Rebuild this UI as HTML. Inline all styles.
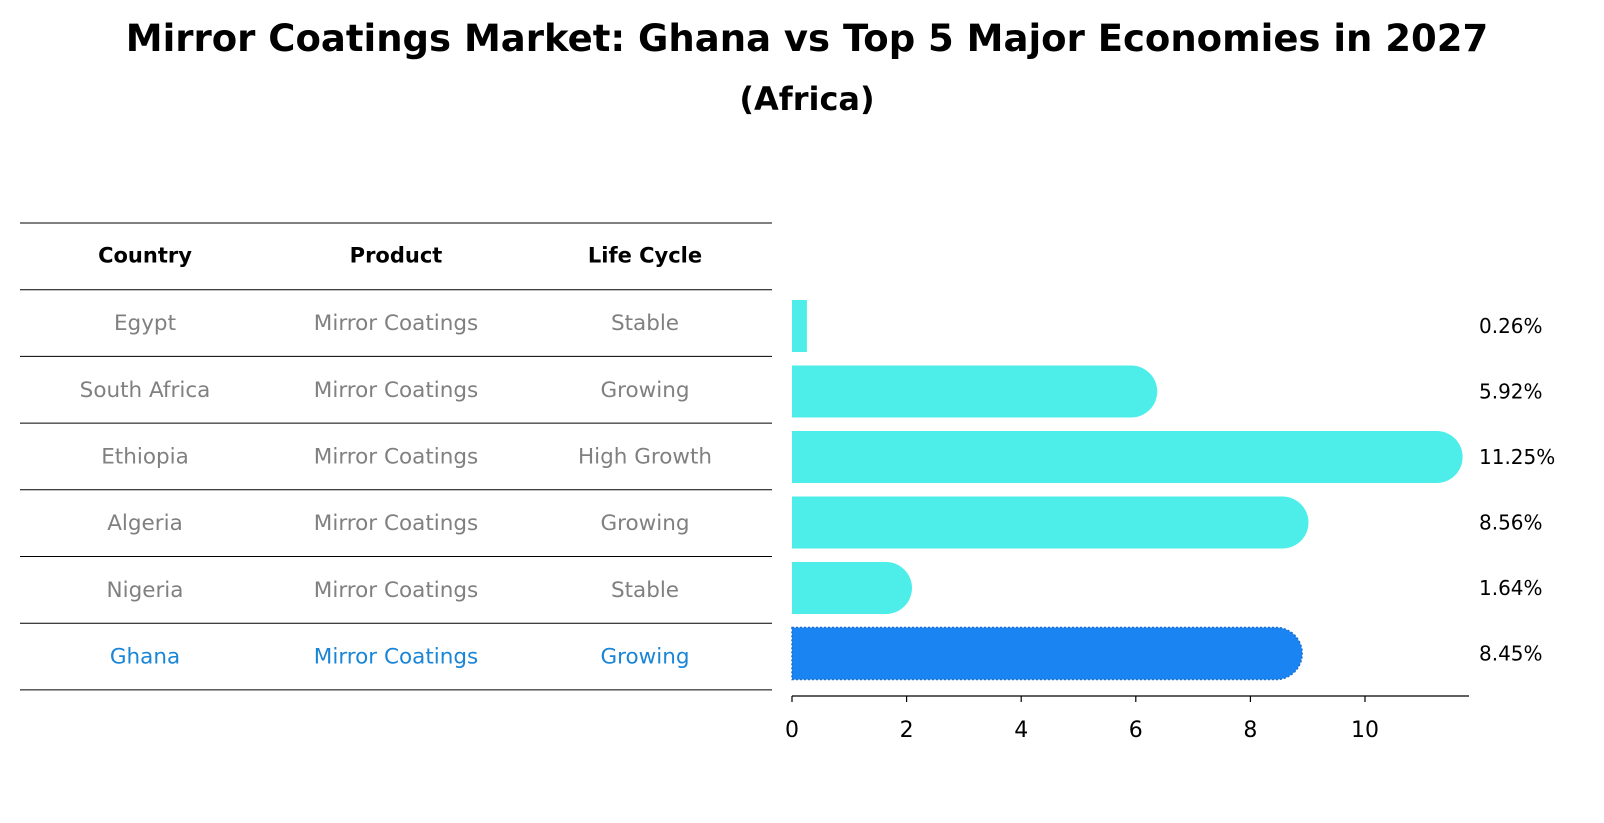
<!DOCTYPE html>
<html><head><meta charset="utf-8"><style>
body{margin:0;background:#fff;}
svg{display:block;font-family:"DejaVu Sans","Liberation Sans",sans-serif;}
</style></head><body>
<svg width="1604" height="823" viewBox="0 0 1604 823" id="chart">
<text x="807" y="51" text-anchor="middle" font-size="37" font-weight="bold">Mirror Coatings Market: Ghana vs Top 5 Major Economies in 2027</text>
<text x="807" y="110" text-anchor="middle" font-size="32" font-weight="bold">(Africa)</text>
<g id="table"></g>
<g id="bars"></g>
</svg>
<script>
const countries=["Egypt","South Africa","Ethiopia","Algeria","Nigeria","Ghana"];
const products=["Mirror Coatings","Mirror Coatings","Mirror Coatings","Mirror Coatings","Mirror Coatings","Mirror Coatings"];
const lifeCycles=["Stable","Growing","High Growth","Growing","Stable","Growing"];
const values=[0.26,5.92,11.25,8.56,1.64,8.45];
const valueLabels=["0.26%","5.92%","11.25%","8.56%","1.64%","8.45%"];
const ticks=[0,2,4,6,8,10];

const NS="http://www.w3.org/2000/svg";
function mk(tag,attrs,parent,text){const e=document.createElementNS(NS,tag);for(const k in attrs)e.setAttribute(k,attrs[k]);if(text!==undefined)e.textContent=text;parent.appendChild(e);return e;}
const tbl=document.getElementById('table');
const bars=document.getElementById('bars');
const rowH=66.7, tableTop=223, colX=[145,396,645];
const hl=countries.length-1;
for(let i=0;i<=countries.length+1;i++){
  const l=mk('line',{x1:20,x2:772,y1:tableTop+i*rowH,y2:tableTop+i*rowH,stroke:'#000','stroke-width':1},tbl);
  
  
}
["Country","Product","Life Cycle"].forEach((h,j)=>{
  const t=mk('text',{x:colX[j],y:tableTop+rowH/2+6,'text-anchor':'middle','font-size':21,'font-weight':'bold'},tbl,h);
  
  
});
countries.forEach((c,i)=>{
  const y=tableTop+(i+1.5)*rowH+7;
  const col=i===hl?'#1a85d6':'#808080';
  [c,products[i],lifeCycles[i]].forEach((v,j)=>{
    const t=mk('text',{x:colX[j],y:y,'text-anchor':'middle','font-size':21.5,fill:col},tbl,v);
    
    
  });
});
const x0=792, pxPerUnit=57.3;
const xs=v=>x0+v*pxPerUnit;
const barTop0=300, step=65.5, bh=52;
const ys=i=>barTop0+i*step;
const ax=mk('line',{x1:x0,x2:1469,y1:696,y2:696,stroke:'#000','stroke-width':1.3},bars);


ticks.forEach(t=>{
  const tl=mk('line',{x1:xs(t),x2:xs(t),y1:696,y2:702,stroke:'#000','stroke-width':1.2},bars);
  
  
  const tx=mk('text',{x:xs(t),y:737,'text-anchor':'middle','font-size':22},bars,String(t));
  
  
});
values.forEach((v,i)=>{
  const y=ys(i), xe=xs(v), r=bh/2;
  const fill=i===hl?'#1a85f2':'#4deeea';
  let d;
  if(v<1){d=`M${x0},${y}H${xe}V${y+bh}H${x0}Z`;}
  else{d=`M${x0},${y}H${xe}A${r},${r} 0 0 1 ${xe},${y+bh}H${x0}Z`;}
  const p=mk('path',{d:d,fill:fill},bars);
  if(i===hl){p.setAttribute('stroke','#1a6fd0');p.setAttribute('stroke-dasharray','2,2');p.setAttribute('stroke-width','1.5');}
  
  
  const lb=mk('text',{x:1479,y:y+bh/2+7,'font-size':20},bars,valueLabels[i]);
  
  
});
</script>
</body></html>
